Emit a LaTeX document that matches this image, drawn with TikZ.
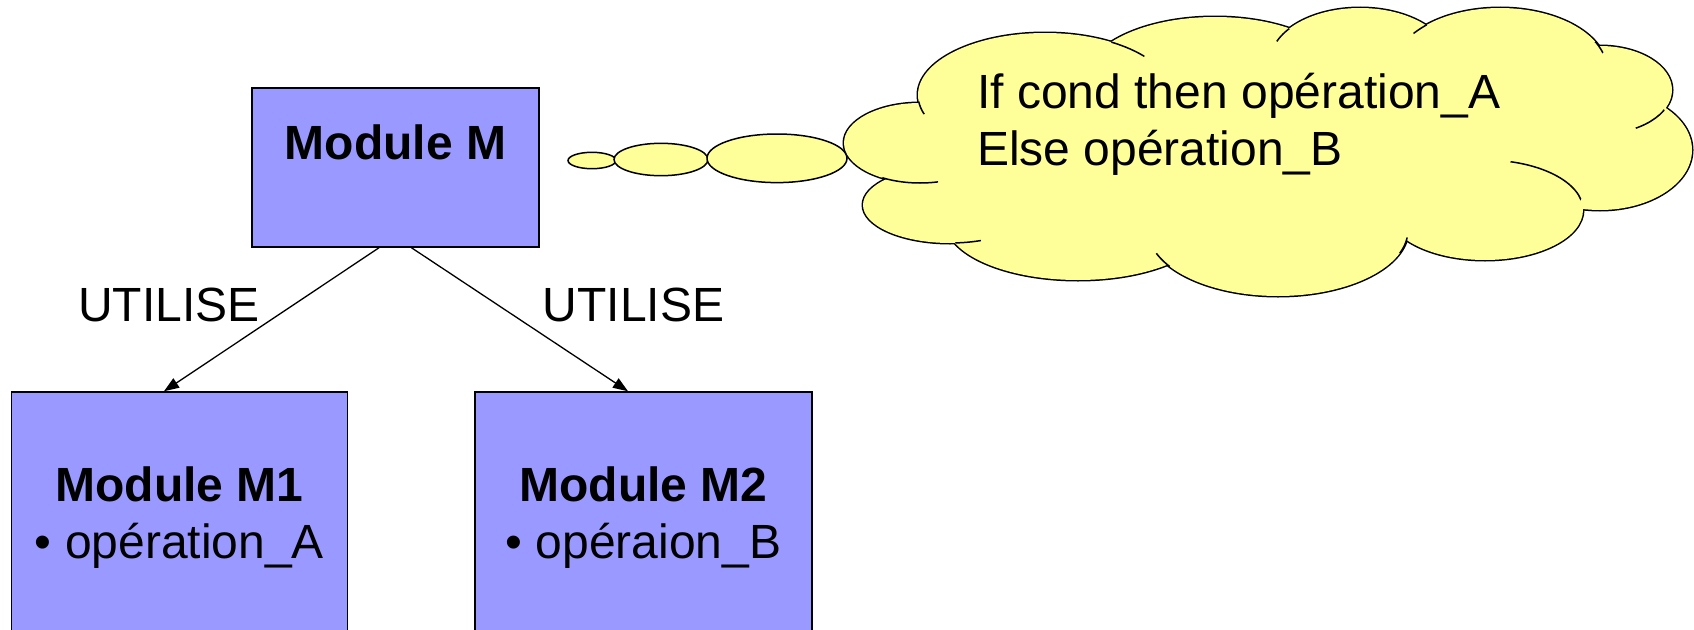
\documentclass[tikz,border=0pt]{standalone}
\usepackage{fontspec}
\setmainfont{Liberation Sans}
\usetikzlibrary{arrows.meta}
\definecolor{modfill}{HTML}{9999FF}
\definecolor{cloudfill}{HTML}{FFFF99}

\begin{document}
\begin{tikzpicture}[x=1pt, y=-1pt,
  txt/.style={inner sep=0pt, font=\fontsize{48}{57}\selectfont},
  boldtxt/.style={inner sep=0pt, font=\fontsize{48}{57}\selectfont\bfseries},
  module/.style={draw=black, line width=1.5pt, fill=modfill, inner sep=0pt},
  uses/.style={draw=black, line width=1.3pt, -{Triangle[length=15pt, width=11pt]}},
  bubble/.style={draw=black, line width=1.5pt, fill=cloudfill},
  outline/.style={draw=black, line width=1.5pt}
]
\clip (0,0) rectangle (1694,629);

% module boxes
\node[module, minimum width=287pt, minimum height=159pt] (M) at (395.5,167.5) {};
\node[module, minimum width=336pt, minimum height=250pt] (M1) at (179.5,517) {};
\node[module, minimum width=337pt, minimum height=250pt] (M2) at (643.5,517) {};

% box titles and contents (base anchor = baseline of the last line)
\node[boldtxt, anchor=base] (Mt) at (395.5,159) {Module M};
\node[txt, anchor=base, align=center] (M1t) at (179.5,558) {\textbf{Module M1}\\• opération\_A};
\node[txt, anchor=base, align=center] (M2t) at (643.5,558) {\textbf{Module M2}\\• opéraion\_B};

% usage links
\draw[uses] ([xshift=-16.5pt]M.south) -- ([xshift=-15.5pt]M1.north);
\draw[uses] ([xshift=16pt]M.south) -- ([xshift=-15.5pt]M2.north);
\node[txt, anchor=base] (u1) at (169,321) {UTILISE};
\node[txt, anchor=base] (u2) at (633.6,321) {UTILISE};

% thought bubbles leading to the cloud
\path[bubble] (592,160.5) ellipse [x radius=24, y radius=8.2];
\path[bubble] (661,159.5) ellipse [x radius=47, y radius=16.2];
\path[bubble] (777,158.3) ellipse [x radius=70, y radius=24.3];

% cloud: thick strokes of every lobe, then the fill hides the inner half
\def\lobes{920/143/76/40, 1045/95/127/62, 1215/80/130/63, 1360/62/90/54,
  1500/70/107/62, 1600/90/72/44, 1600/150/92/60, 1485/210/98/50,
  1278/230/130/66, 1078/222/132/58, 950/205/87/38}
\foreach \cx/\cy/\rx/\ry in \lobes
  \draw[line width=3pt] (\cx,\cy) ellipse [x radius=\rx, y radius=\ry];
\foreach \cx/\cy/\rx/\ry in \lobes
  \fill[cloudfill] (\cx,\cy) ellipse [x radius=\rx, y radius=\ry];
\fill[cloudfill] (1260,150) ellipse [x radius=330, y radius=95];

% short inner arcs where lobes overlap
\foreach \sx/\sy/\sr/\cx/\cy/\rx/\ry in {
  921/108/7/1045/95/127/62,
  910/182/28/920/143/76/40,
  1128/49/18/1045/95/127/62,
  1283/35/9/1360/62/90/54,
  1420/29/8/1500/70/107/62,
  1598/48/7/1500/70/107/62,
  1650/119/17/1600/90/72/44,
  1545/182/40/1485/210/98/50,
  1405/246/9/1278/230/130/66,
  1161/262/10/1278/230/130/66,
  968/241/13/950/205/87/38}
{
  \begin{scope}
    \clip (\sx,\sy) circle (\sr);
    \draw[outline] (\cx,\cy) ellipse [x radius=\rx, y radius=\ry];
  \end{scope}
}

\node[txt, anchor=base west, align=left] (cond) at (977,165)
  {If cond then opération\_A\\Else opération\_B};
\end{tikzpicture}
\end{document}
